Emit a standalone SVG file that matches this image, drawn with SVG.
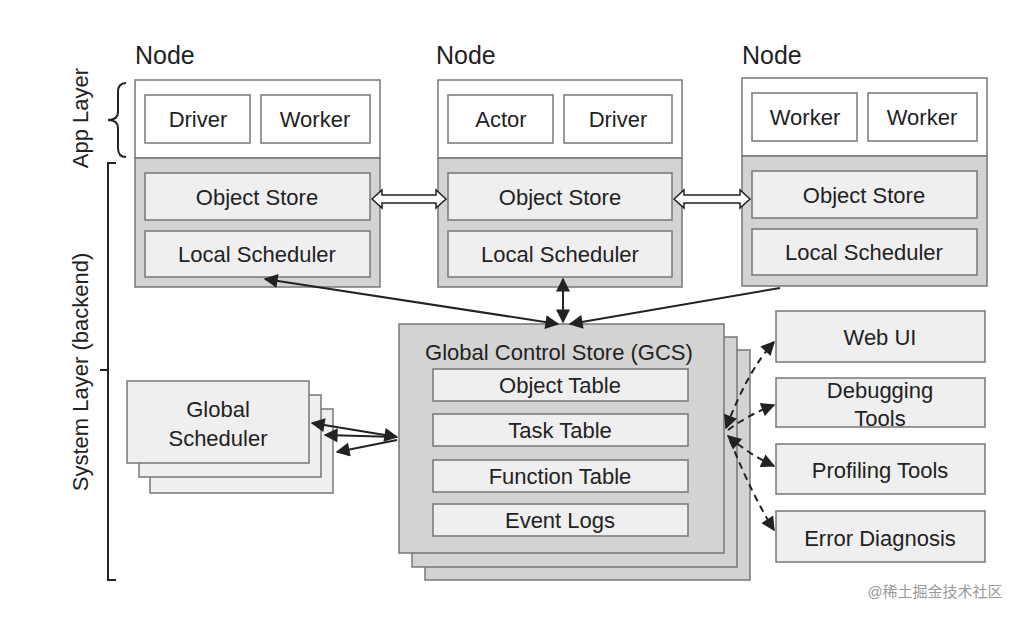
<svg xmlns="http://www.w3.org/2000/svg" width="1033" height="620" viewBox="0 0 1033 620">
<style>
text{font-family:"Liberation Sans",Arial,sans-serif;fill:#222;text-anchor:middle}
.w{fill:#fff;stroke:#777;stroke-width:1.5}
.g{fill:#d3d3d3;stroke:#777;stroke-width:1.5}
.l{fill:#efefef;stroke:#777;stroke-width:1.5}
.t{font-size:22px}
.h{font-size:25px;text-anchor:start}
.c{stroke:#222;stroke-width:2;fill:none}
.d{stroke:#222;stroke-width:2;fill:none;stroke-dasharray:7 5}
</style>
<defs>
<marker id="a" viewBox="0 0 10 10" refX="9" refY="5" markerWidth="10" markerHeight="10" markerUnits="userSpaceOnUse" orient="auto-start-reverse"><path d="M0,0 L10,5 L0,10 z" fill="#222"/></marker>
<marker id="b" viewBox="0 0 10 10" refX="9" refY="5" markerWidth="16" markerHeight="14" markerUnits="userSpaceOnUse" orient="auto-start-reverse"><path d="M0,0 L10,5 L0,10 z" fill="#222"/></marker>
</defs>
<rect width="1033" height="620" fill="#fff"/>
<g id="layers" fill="none" stroke="#222" stroke-width="2">
<path d="M126,83 Q118,83 118,92 L118,112 Q118,120 108,120 Q118,120 118,128 L118,148 Q118,157 126,157"/>
<path d="M116,163 L108,163 L108,580 L116,580 M108,370 L100,370"/>
</g>
<text x="88" y="118" class="t" transform="rotate(-90 88 118)">App Layer</text>
<text x="88" y="372" class="t" transform="rotate(-90 88 372)">System Layer (backend)</text>
<g id="node1">
<text x="135" y="64" class="h">Node</text>
<rect x="135" y="80" width="245" height="78" class="w"/><rect x="135" y="158" width="245" height="129" class="g"/>
<rect x="145" y="95" width="105" height="48" class="w"/><text x="198" y="127" class="t">Driver</text>
<rect x="261" y="95" width="109" height="48" class="w"/><text x="315" y="127" class="t">Worker</text>
<rect x="145" y="173" width="225" height="47" class="l"/><text x="257" y="205" class="t">Object Store</text>
<rect x="145" y="231" width="225" height="46" class="l"/><text x="257" y="262" class="t">Local Scheduler</text>
</g>
<g id="node2">
<text x="436" y="64" class="h">Node</text>
<rect x="438" y="80" width="244" height="78" class="w"/><rect x="438" y="158" width="244" height="129" class="g"/>
<rect x="448" y="95" width="105" height="48" class="w"/><text x="501" y="127" class="t">Actor</text>
<rect x="564" y="95" width="108" height="48" class="w"/><text x="618" y="127" class="t">Driver</text>
<rect x="448" y="173" width="224" height="47" class="l"/><text x="560" y="205" class="t">Object Store</text>
<rect x="448" y="231" width="224" height="46" class="l"/><text x="560" y="262" class="t">Local Scheduler</text>
</g>
<g id="node3">
<text x="742" y="64" class="h">Node</text>
<rect x="742" y="78" width="245" height="78" class="w"/><rect x="742" y="156" width="245" height="130" class="g"/>
<rect x="752" y="93" width="105" height="48" class="w"/><text x="805" y="125" class="t">Worker</text>
<rect x="868" y="93" width="109" height="48" class="w"/><text x="922" y="125" class="t">Worker</text>
<rect x="752" y="171" width="225" height="47" class="l"/><text x="864" y="203" class="t">Object Store</text>
<rect x="752" y="229" width="225" height="46" class="l"/><text x="864" y="260" class="t">Local Scheduler</text>
</g>
<g id="gcs">
<rect x="425" y="350" width="325" height="230" class="g"/>
<rect x="412" y="337" width="325" height="230" class="g"/>
<rect x="399" y="324" width="325" height="229" class="g"/>
<text x="559" y="360" class="t">Global Control Store (GCS)</text>
<rect x="433" y="369" width="255" height="32" class="l"/><text x="560" y="393" class="t">Object Table</text>
<rect x="433" y="414" width="255" height="32" class="l"/><text x="560" y="438" class="t">Task Table</text>
<rect x="433" y="460" width="255" height="32" class="l"/><text x="560" y="484" class="t">Function Table</text>
<rect x="433" y="504" width="255" height="32" class="l"/><text x="560" y="528" class="t">Event Logs</text>
</g>
<g id="globalScheduler">
<rect x="150" y="409" width="183" height="84" class="l"/>
<rect x="139" y="395" width="182" height="82" class="l"/>
<rect x="127" y="381" width="182" height="82" class="l"/>
<text x="218" y="417" class="t">Global</text><text x="218" y="446" class="t">Scheduler</text>
</g>
<g id="webui"><rect x="776" y="311" width="209" height="51" class="l"/><text x="880" y="345" class="t">Web UI</text></g>
<g id="debug"><rect x="776" y="378" width="209" height="49" class="l"/><text x="880" y="398" class="t">Debugging</text><text x="880" y="426" class="t">Tools</text></g>
<g id="profiling"><rect x="776" y="444" width="209" height="50" class="l"/><text x="880" y="478" class="t">Profiling Tools</text></g>
<g id="error"><rect x="776" y="511" width="209" height="51" class="l"/><text x="880" y="546" class="t">Error Diagnosis</text></g>
<g id="connectors">
<path d="M372,199 L382,190 L382,195 L436,195 L436,190 L446,199 L436,208 L436,203 L382,203 L382,208 Z" fill="#fff" stroke="#222" stroke-width="1.5"/>
<path d="M674,199 L684,190 L684,195 L740,195 L740,190 L750,199 L740,208 L740,203 L684,203 L684,208 Z" fill="#fff" stroke="#222" stroke-width="1.5"/>
<path d="M265,279 L558,324" class="c" marker-start="url(#b)" marker-end="url(#b)"/>
<path d="M780,288 L570,324" class="c" marker-end="url(#b)"/>
<path d="M563,279 L563,322" class="c" marker-start="url(#b)" marker-end="url(#b)"/>
<path d="M312,423 L397,437" class="c" marker-start="url(#b)" marker-end="url(#b)"/>
<path d="M325,435 L397,437" class="c" marker-start="url(#b)"/>
<path d="M337,452 L397,440" class="c" marker-start="url(#b)"/>
<path d="M726,428 Q748,370 774,342" class="d" marker-start="url(#b)" marker-end="url(#b)"/>
<path d="M728,430 Q748,415 774,405" class="d" marker-end="url(#b)"/>
<path d="M728,436 Q750,455 774,466" class="d" marker-start="url(#b)" marker-end="url(#b)"/>
<path d="M730,440 Q752,495 774,530" class="d" marker-end="url(#b)"/>
</g>
<text x="935" y="597" style="font-size:15px;fill:#999;font-family:'Liberation Sans','Noto Sans CJK SC',sans-serif">@稀土掘金技术社区</text>
</svg>
